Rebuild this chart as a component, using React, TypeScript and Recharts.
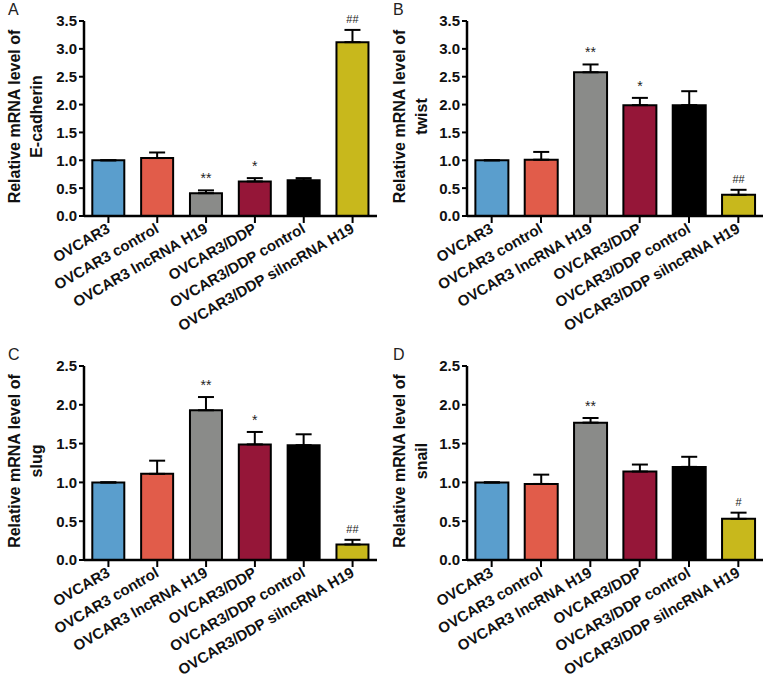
import React from 'react';
import { BarChart, Bar, XAxis, YAxis, Cell, ErrorBar, LabelList } from 'recharts';

const categories = [
  'OVCAR3',
  'OVCAR3 control',
  'OVCAR3 lncRNA H19',
  'OVCAR3/DDP',
  'OVCAR3/DDP control',
  'OVCAR3/DDP silncRNA H19',
];
const barColors = ['#5a9ecd', '#e15c4a', '#8a8b89', '#951638', '#000000', '#c8b81c'];

const ecadherin = [1.0, 1.04, 0.41, 0.62, 0.64, 3.12];
const ecadherinErr = [0, 0.1, 0.05, 0.06, 0.04, 0.22];
const ecadherinSig = ['', '', '**', '*', '', '##'];

const twist = [1.0, 1.01, 2.58, 1.99, 1.99, 0.38];
const twistErr = [0, 0.14, 0.14, 0.13, 0.25, 0.09];
const twistSig = ['', '', '**', '*', '', '##'];

const slug = [1.0, 1.11, 1.93, 1.49, 1.48, 0.2];
const slugErr = [0, 0.17, 0.17, 0.16, 0.14, 0.06];
const slugSig = ['', '', '**', '*', '', '##'];

const snail = [1.0, 0.98, 1.77, 1.14, 1.2, 0.53];
const snailErr = [0, 0.12, 0.06, 0.09, 0.13, 0.08];
const snailSig = ['', '', '**', '', '', '#'];

const ticks35 = [0, 0.5, 1.0, 1.5, 2.0, 2.5, 3.0, 3.5];
const ticks25 = [0, 0.5, 1.0, 1.5, 2.0, 2.5];

const FONT = '"Liberation Sans", Arial, Helvetica, sans-serif';

type Row = { name: string; v: number; err: [number, number]; e: number; sig: string };

const build = (vals: number[], errs: number[], sigs: string[]): Row[] =>
  categories.map((name, i) => ({ name, v: vals[i], err: [0, errs[i]], e: errs[i], sig: sigs[i] }));

const XTick = (props: any) => {
  const { x, y, payload } = props;
  return (
    <text
      x={x}
      y={y}
      dy="0.35em"
      transform={`rotate(-30 ${x} ${y})`}
      textAnchor="end"
      fontFamily={FONT}
      fontWeight="bold"
      fontSize={15}
      fill="#111"
    >
      {payload.value}
    </text>
  );
};

const YTick = (props: any) => {
  const { x, y, payload } = props;
  return (
    <text x={x} y={y} dy="0.36em" textAnchor="end" fontFamily={FONT} fontWeight="bold" fontSize={15} fill="#111">
      {Number(payload.value).toFixed(1)}
    </text>
  );
};

type PanelProps = {
  letter: string;
  gene: string;
  rows: Row[];
  max: number;
  ticks: number[];
  left: number;
  top: number;
  width: number;
  height: number;
  yAxisWidth: number;
  xAxisHeight: number;
};

const Panel = ({ letter, gene, rows, max, ticks, left, top, width, height, yAxisWidth, xAxisHeight }: PanelProps) => {
  const renderSig = (p: any) => {
    const { x, y, width: w, height: h, index } = p;
    const row = rows[index];
    if (!row || !row.sig) return null;
    const pxPerUnit = row.v > 0 ? h / row.v : 0;
    const errTop = y - row.e * pxPerUnit;
    return (
      <text
        x={x + w / 2}
        y={errTop - 7}
        textAnchor="middle"
        fontFamily={FONT}
        fontSize={row.sig.startsWith('#') ? 11 : 14}
        fill="#222"
      >
        {row.sig}
      </text>
    );
  };

  const renderYLabel = (p: any) => {
    const vb = p.viewBox || {};
    const cy = (vb.y ?? 0) + (vb.height ?? 0) / 2 - 2;
    const x1 = 20;
    const x2 = 42;
    return (
      <g>
        <text
          x={x1}
          y={cy}
          transform={`rotate(-90 ${x1} ${cy})`}
          textAnchor="middle"
          fontFamily={FONT}
          fontWeight="bold"
          fontSize={16}
          fill="#111"
        >
          Relative mRNA level of
        </text>
        <text
          x={x2}
          y={cy}
          transform={`rotate(-90 ${x2} ${cy})`}
          textAnchor="middle"
          fontFamily={FONT}
          fontWeight="bold"
          fontSize={16}
          fill="#111"
        >
          {gene}
        </text>
      </g>
    );
  };

  return (
    <div style={{ position: 'absolute', left, top, width, height }}>
      <div
        style={{
          position: 'absolute',
          left: 8,
          top: 1,
          fontFamily: FONT,
          fontSize: 16,
          color: '#222',
          lineHeight: '18px',
        }}
      >
        {letter}
      </div>
      <BarChart
        width={width}
        height={height}
        data={rows}
        margin={{ top: 21, right: 8, left: 0, bottom: 0 }}
        barCategoryGap="17%"
      >
        <YAxis
          width={yAxisWidth}
          domain={[0, max]}
          ticks={ticks}
          interval={0}
          allowDataOverflow
          axisLine={{ stroke: '#000', strokeWidth: 2.5 }}
          tickLine={{ stroke: '#000', strokeWidth: 2 }}
          tickSize={5}
          tickMargin={2}
          tick={<YTick />}
          label={{ content: renderYLabel }}
        />
        <XAxis
          dataKey="name"
          interval={0}
          height={xAxisHeight}
          axisLine={{ stroke: '#000', strokeWidth: 2.5 }}
          tickLine={{ stroke: '#000', strokeWidth: 2 }}
          tickSize={7}
          tickMargin={4}
          tick={<XTick />}
        />
        <Bar dataKey="v" stroke="#000" strokeWidth={2} isAnimationActive={false}>
          {rows.map((r, i) => (
            <Cell key={r.name} fill={barColors[i]} />
          ))}
          <ErrorBar dataKey="err" direction="y" width={8} stroke="#000" strokeWidth={2} />
          <LabelList dataKey="sig" content={renderSig} />
        </Bar>
      </BarChart>
    </div>
  );
};

export default function App() {
  return (
    <div style={{ position: 'absolute', left: 0, top: 0, width: 771, height: 682, background: '#fff', overflow: 'hidden' }}>
      <Panel
        letter="A"
        gene="E-cadherin"
        rows={build(ecadherin, ecadherinErr, ecadherinSig)}
        max={3.5}
        ticks={ticks35}
        left={0}
        top={0}
        width={385}
        height={342}
        yAxisWidth={84}
        xAxisHeight={126}
      />
      <Panel
        letter="B"
        gene="twist"
        rows={build(twist, twistErr, twistSig)}
        max={3.5}
        ticks={ticks35}
        left={385}
        top={0}
        width={386}
        height={342}
        yAxisWidth={82}
        xAxisHeight={126}
      />
      <Panel
        letter="C"
        gene="slug"
        rows={build(slug, slugErr, slugSig)}
        max={2.5}
        ticks={ticks25}
        left={0}
        top={345}
        width={385}
        height={337}
        yAxisWidth={84}
        xAxisHeight={122}
      />
      <Panel
        letter="D"
        gene="snail"
        rows={build(snail, snailErr, snailSig)}
        max={2.5}
        ticks={ticks25}
        left={385}
        top={345}
        width={386}
        height={337}
        yAxisWidth={82}
        xAxisHeight={122}
      />
    </div>
  );
}
